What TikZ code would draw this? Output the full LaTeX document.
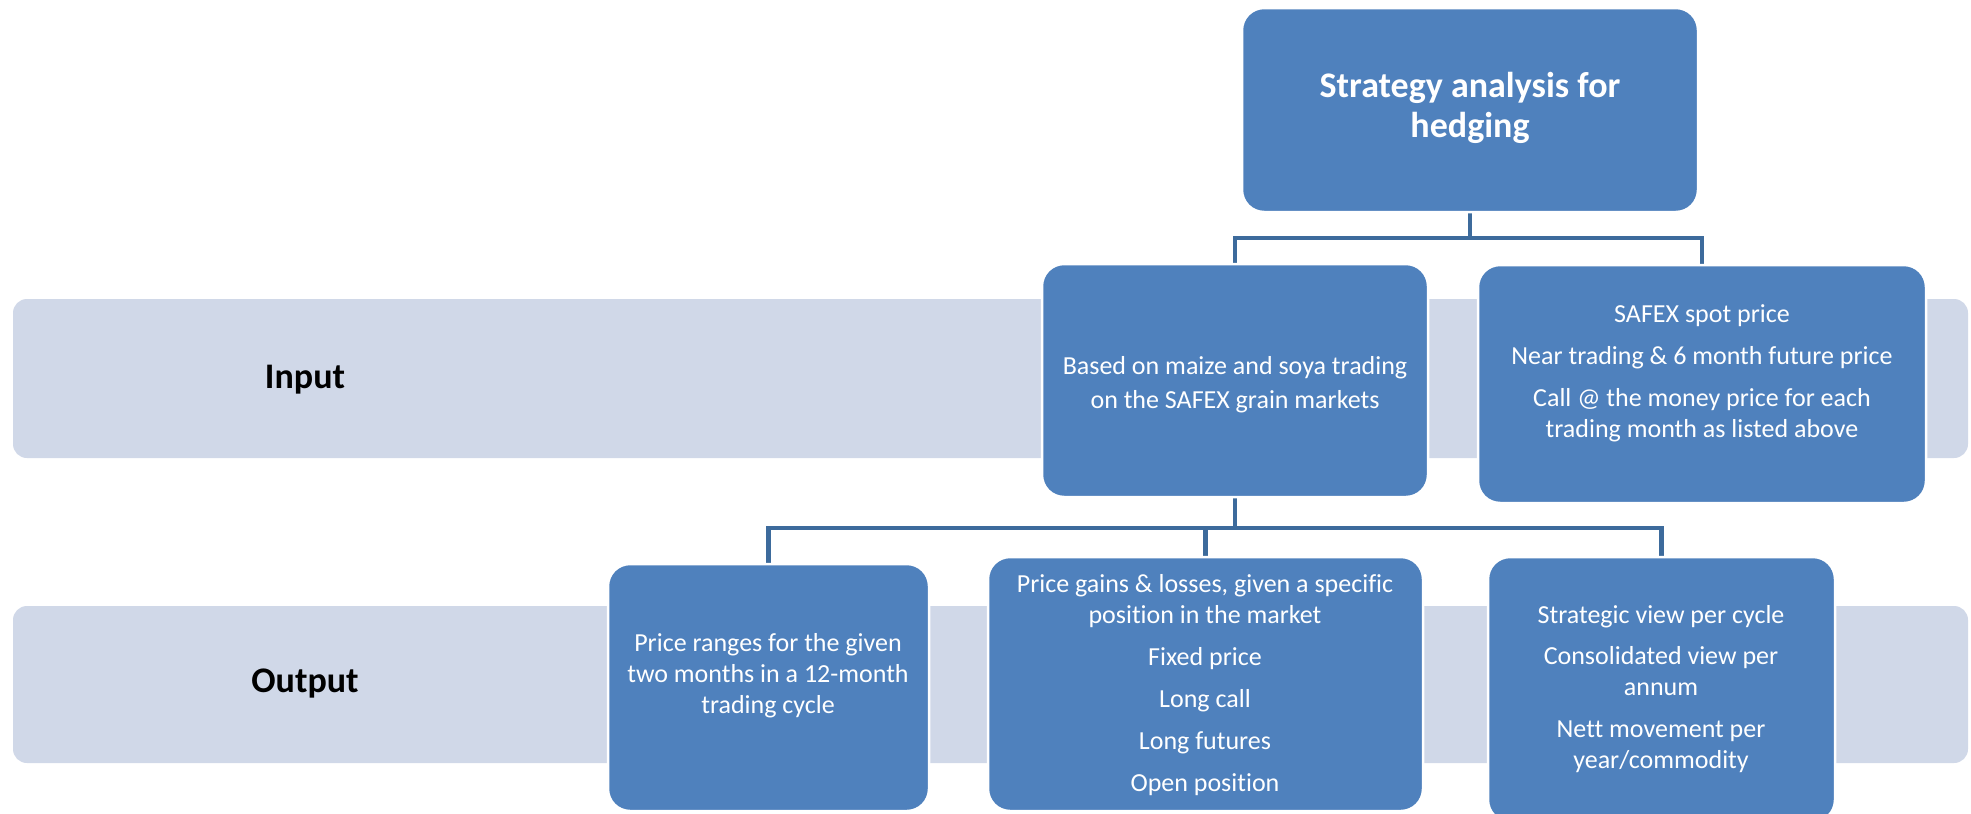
\documentclass[tikz,border=0pt]{standalone}
\usepackage{fontspec}
\setmainfont{Carlito}[Ligatures=NoCommon]
\usetikzlibrary{calc}
\definecolor{boxblue}{HTML}{4F81BD}
\definecolor{bandgray}{HTML}{D0D8E8}
\definecolor{linkblue}{HTML}{3D6B9C}
\begin{document}
\begin{tikzpicture}[x=1pt,y=-1pt,
  band/.style={fill=bandgray, draw=none, rounded corners=14pt, inner sep=0pt},
  box/.style={fill=boxblue, draw=white, line width=2.5pt, rounded corners=22pt, inner sep=0pt},
  conn/.style={draw=linkblue, line width=4.5pt},
  boxtext/.style={text=white, align=center, inner sep=0pt, font=\fontsize{26}{31}\selectfont},
  titletext/.style={text=white, align=center, inner sep=0pt, font=\bfseries\fontsize{36}{40}\selectfont},
  bandlabel/.style={text=black, inner sep=0pt, font=\bfseries\fontsize{36}{40}\selectfont}]
\clip (0,0) rectangle (1971,814);
\fill[white] (0,0) rectangle (1971,814);

% bands
\node[band, minimum width=1955pt, minimum height=159pt] (inband) at (990.5,378.5) {};
\node[band, minimum width=1955pt, minimum height=157pt] (outband) at (990.5,684.5) {};
\node[bandlabel] (inlabel) at (305,380) {Input};
\node[bandlabel] (outlabel) at (305,684) {Output};

% box centres
\coordinate (ctop) at (1470,110);
\coordinate (cinmid) at (1235,380.5);
\coordinate (cinright) at (1702,384);
\coordinate (coutleft) at (768.5,687.5);
\coordinate (coutmid) at (1205.5,684);
\coordinate (coutright) at (1661.5,689.5);

% invisible anchors for connectors
\path node[minimum width=456pt, minimum height=204pt, inner sep=0pt] (top) at (ctop) {}
      node[minimum width=386pt, minimum height=233pt, inner sep=0pt] (inmid) at (cinmid) {}
      node[minimum width=448pt, minimum height=238pt, inner sep=0pt] (inright) at (cinright) {}
      node[minimum width=321pt, minimum height=247pt, inner sep=0pt] (outleft) at (coutleft) {}
      node[minimum width=435pt, minimum height=254pt, inner sep=0pt] (outmid) at (coutmid) {}
      node[minimum width=347pt, minimum height=265pt, inner sep=0pt] (outright) at (coutright) {};

% connectors
\coordinate (j1) at ($(top.south)+(0,26)$);
\draw[conn] (top.south) -- (j1);
\draw[conn] (j1) -| (inmid.north);
\draw[conn] (j1) -| (inright.north);
\coordinate (j2) at ($(inmid.south)+(0,31)$);
\draw[conn] (inmid.south) -- (j2);
\draw[conn] (j2) -| (outleft.north);
\draw[conn] (j2) -| (outmid.north);
\draw[conn] (j2) -| (outright.north);

% boxes
\node[box, minimum width=456pt, minimum height=204pt] (topbox) at (ctop) {};
\node[box, minimum width=386pt, minimum height=233pt] (inmidbox) at (cinmid) {};
\node[box, minimum width=448pt, minimum height=238pt] (inrightbox) at (cinright) {};
\node[box, minimum width=321pt, minimum height=247pt] (outleftbox) at (coutleft) {};
\node[box, minimum width=435pt, minimum height=254pt] (outmidbox) at (coutmid) {};
\node[box, minimum width=347pt, minimum height=265pt] (outrightbox) at (coutright) {};

% texts
\node[titletext] (toptext) at (1470,108) {Strategy analysis for\\hedging};
\node[boxtext, font=\fontsize{26}{34}\selectfont] (inmidtext) at (1235,385) {Based on maize and soya trading\\on the SAFEX grain markets};
\node[boxtext] (inrighttext) at (1702,373) {SAFEX spot price\\[11pt]Near trading \& 6 month future price\\[11pt]Call @ the money price for each\\trading month as listed above};
\node[boxtext] (outlefttext) at (768,676) {Price ranges for the given\\two months in a 12-month\\trading cycle};
\node[boxtext] (outmidtext) at (1205,685) {Price gains \& losses, given a specific\\position in the market\\[11pt]Fixed price\\[11pt]Long call\\[11pt]Long futures\\[11pt]Open position};
\node[boxtext] (outrighttext) at (1661,689) {Strategic view per cycle\\[10pt]Consolidated view per\\annum\\[11pt]Nett movement per\\year/commodity};
\end{tikzpicture}
\end{document}
